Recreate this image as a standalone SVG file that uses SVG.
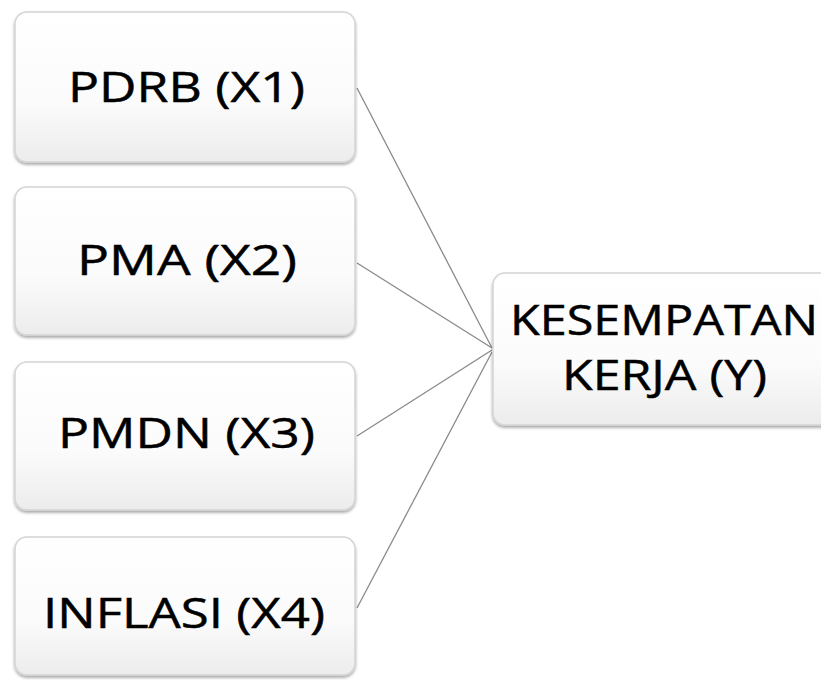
<svg xmlns="http://www.w3.org/2000/svg" width="821" height="682" viewBox="0 0 821 682">
<defs>
<linearGradient id="g" x1="0" y1="0" x2="0" y2="1">
<stop offset="0" stop-color="#ffffff"/>
<stop offset="0.6" stop-color="#fbfbfb"/>
<stop offset="1" stop-color="#ececec"/>
</linearGradient>
<filter id="sh" x="-5%" y="-5%" width="110%" height="115%">
<feGaussianBlur in="SourceAlpha" stdDeviation="1.5"/>
<feOffset dx="0" dy="1.5" result="b"/>
<feComponentTransfer><feFuncA type="linear" slope="0.35"/></feComponentTransfer>
<feMerge><feMergeNode/><feMergeNode in="SourceGraphic"/></feMerge>
</filter>
<style>
.box{fill:url(#g);stroke:#d4d4d4;stroke-width:1.5;filter:url(#sh)}
.t{font-family:"Open Sans","Noto Sans","Liberation Sans",sans-serif;font-size:42px;fill:#000;stroke:#000;stroke-width:0.5}
.c{stroke:#8a8a8a;stroke-width:1.3;fill:none}
</style>
</defs>
<rect width="821" height="682" fill="#ffffff"/>
<g id="connectors">
<line class="c" x1="357" y1="88" x2="492" y2="348"/>
<line class="c" x1="357" y1="263" x2="492" y2="348"/>
<line class="c" x1="357" y1="436" x2="492" y2="350"/>
<line class="c" x1="357" y1="608" x2="492" y2="352"/>
</g>
<g id="n1"><rect class="box" x="15" y="12" width="340" height="150" rx="12"/><text class="t" x="68" y="102" textLength="237" lengthAdjust="spacingAndGlyphs">PDRB (X1)</text></g>
<g id="n2"><rect class="box" x="15" y="187" width="340" height="148" rx="12"/><text class="t" x="77" y="275" textLength="220" lengthAdjust="spacingAndGlyphs">PMA (X2)</text></g>
<g id="n3"><rect class="box" x="15" y="362" width="340" height="148" rx="12"/><text class="t" x="58" y="448" textLength="257" lengthAdjust="spacingAndGlyphs">PMDN (X3)</text></g>
<g id="n4"><rect class="box" x="15" y="537" width="340" height="138" rx="12"/><text class="t" x="43" y="628" textLength="282" lengthAdjust="spacingAndGlyphs">INFLASI (X4)</text></g>
<g id="y"><rect class="box" x="493" y="273" width="340" height="152" rx="12"/><text class="t" x="510" y="335" textLength="308" lengthAdjust="spacingAndGlyphs">KESEMPATAN</text><text class="t" x="562" y="390" textLength="205" lengthAdjust="spacingAndGlyphs">KERJA (Y)</text></g>
</svg>
